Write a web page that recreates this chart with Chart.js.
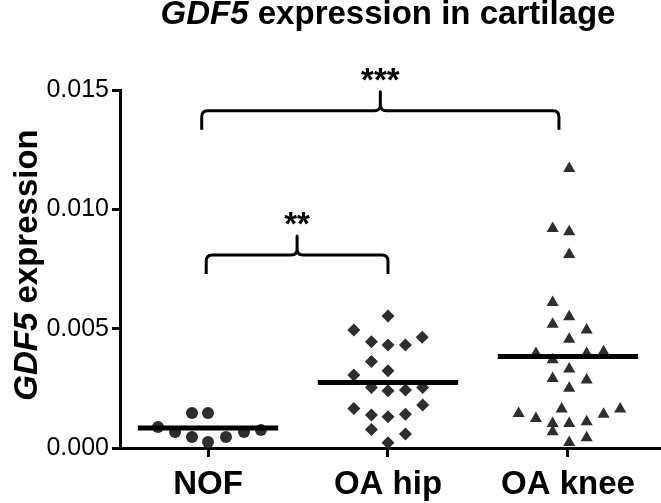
<!DOCTYPE html>
<html>
<head>
<meta charset="utf-8">
<script src="https://cdn.jsdelivr.net/npm/chart.js@4.4.1/dist/chart.umd.min.js"></script>
<style>
  html, body { margin: 0; padding: 0; background: #fff; }
  #c { display: block; }
</style>
</head>
<body>
<canvas id="c" width="661" height="503"></canvas>
<script>
const categories = ['NOF', 'OA hip', 'OA knee'];
const yTicks = [0, 0.005, 0.010, 0.015];

// values, offsets = horizontal spread inside a column (category units)
const nofValues = [0.00088, 0.00067, 0.00147, 0.00046, 0.00147, 0.00025, 0.00046, 0.00067, 0.00075];
const nofOffsets = [-0.278, -0.183, -0.089, -0.089, 0, 0, 0.1, 0.2, 0.294];

const hipValues = [0.00553, 0.00494, 0.00464, 0.00445, 0.00432, 0.00432, 0.00362, 0.00324, 0.00306, 0.00254, 0.00240,
  0.00243, 0.00254, 0.00180, 0.00166, 0.00138, 0.00131, 0.00141, 0.00078, 0.00059, 0.00022];
const hipOffsets = [0, -0.19, 0.19, -0.092, 0, 0.097, -0.092, 0, -0.19, -0.092, 0,
  0.097, 0.193, 0.193, -0.19, -0.092, 0, 0.097, -0.092, 0.097, 0];

const kneeValues = [0.01171, 0.00920, 0.00906, 0.00811, 0.00610, 0.00550, 0.00518, 0.00494, 0.00456, 0.00396, 0.00396,
  0.00403, 0.00370, 0.00331, 0.00291, 0.00285, 0.00250, 0.00163, 0.00145, 0.00163, 0.00141, 0.00124, 0.00103,
  0.00103, 0.00110, 0.00068, 0.00023, 0.00043];
const kneeOffsets = [0.007, -0.085, 0.007, 0.007, -0.085, 0.007, -0.085, 0.104, 0.007, -0.178, 0.104,
  0.198, -0.085, 0.007, -0.085, 0.104, 0.007, -0.035, -0.274, 0.29, 0.198, -0.178, -0.085,
  0.007, 0.104, -0.085, 0.007, 0.104];

const means = [0.00084, 0.00274, 0.00383];

// significance brackets
const bracketFrom = [-0.01, -0.035];
const bracketTo = [1.0, 1.95];
const bracketLevel = [0.00809, 0.01413];
const bracketLabels = ['**', '***'];

const FONT = '"Liberation Sans", Arial, Helvetica, sans-serif';
const MARK = '#2e2e2e';
const MEAN_HALF = 0.39;

function points(values, offsets, col) {
  return values.map((v, i) => ({ x: col + offsets[i], y: v }));
}

function meanLine(i) {
  return [{ x: i - MEAN_HALF, y: means[i] }, { x: i + MEAN_HALF, y: means[i] }];
}

function drawMixed(ctx, parts, x, y) {
  let total = 0;
  parts.forEach(p => { ctx.font = p.font; total += ctx.measureText(p.text).width; });
  let cx = x - total / 2;
  parts.forEach(p => {
    ctx.font = p.font;
    ctx.fillText(p.text, cx, y);
    cx += ctx.measureText(p.text).width;
  });
}

const decorations = {
  id: 'decorations',
  afterDraw(chart) {
    const ctx = chart.ctx;
    const xs = chart.scales.x, ys = chart.scales.y;
    ctx.save();
    ctx.fillStyle = '#000';
    ctx.textAlign = 'left';
    ctx.textBaseline = 'alphabetic';

    const italic = 'italic bold 33px ' + FONT;
    const bold = 'bold 33px ' + FONT;
    drawMixed(ctx, [{ text: 'GDF5', font: italic }, { text: ' expression in cartilage', font: bold }], 388, 24);

    ctx.save();
    ctx.translate(37, 265);
    ctx.rotate(-Math.PI / 2);
    drawMixed(ctx, [{ text: 'GDF5', font: italic }, { text: ' expression', font: bold }], 0, 0);
    ctx.restore();

    // brackets
    ctx.strokeStyle = '#000';
    ctx.lineWidth = 3;
    ctx.lineJoin = 'round';
    ctx.lineCap = 'butt';
    for (let i = 0; i < bracketLabels.length; i++) {
      const x1 = xs.getPixelForValue(bracketFrom[i]);
      const x2 = xs.getPixelForValue(bracketTo[i]);
      const xm = (x1 + x2) / 2;
      const yh = ys.getPixelForValue(bracketLevel[i]);
      const leg = 19, r = 6;
      ctx.beginPath();
      ctx.moveTo(x1, yh + leg);
      ctx.lineTo(x1, yh + r);
      ctx.quadraticCurveTo(x1, yh, x1 + r, yh);
      ctx.lineTo(xm - r, yh);
      ctx.quadraticCurveTo(xm, yh, xm, yh - r);
      ctx.lineTo(xm, yh - leg);
      ctx.lineTo(xm, yh - r);
      ctx.quadraticCurveTo(xm, yh, xm + r, yh);
      ctx.lineTo(x2 - r, yh);
      ctx.quadraticCurveTo(x2, yh, x2, yh + r);
      ctx.lineTo(x2, yh + leg);
      ctx.stroke();

      ctx.font = bold;
      ctx.textAlign = 'center';
      ctx.fillText(bracketLabels[i], xm, yh - leg - 1);
      ctx.textAlign = 'left';
    }
    ctx.restore();
  }
};

const ctx = document.getElementById('c').getContext('2d');
const config = {
  type: 'scatter',
  data: {
    datasets: [
      { data: meanLine(0), showLine: true, borderColor: '#000', borderWidth: 5, pointRadius: 0, order: 0 },
      { data: meanLine(1), showLine: true, borderColor: '#000', borderWidth: 5, pointRadius: 0, order: 0 },
      { data: meanLine(2), showLine: true, borderColor: '#000', borderWidth: 5, pointRadius: 0, order: 0 },
      { label: categories[0], data: points(nofValues, nofOffsets, 0), pointStyle: 'circle', pointRadius: 6,
        backgroundColor: MARK, borderWidth: 0, order: 1 },
      { label: categories[1], data: points(hipValues, hipOffsets, 1), pointStyle: 'rectRot', pointRadius: 6.5,
        backgroundColor: MARK, borderWidth: 0, order: 1 },
      { label: categories[2], data: points(kneeValues, kneeOffsets, 2), pointStyle: 'triangle', pointRadius: 7,
        backgroundColor: MARK, borderWidth: 0, order: 1 }
    ]
  },
  options: {
    responsive: false,
    animation: false,
    devicePixelRatio: 1,
    layout: { autoPadding: false, padding: { top: 90, right: 0, bottom: 0, left: 0 } },
    plugins: { legend: { display: false }, tooltip: { enabled: false }, title: { display: false } },
    scales: {
      x: {
        type: 'linear',
        min: -0.489,
        max: 2.517,
        afterBuildTicks: (scale) => { scale.ticks = categories.map((c, i) => ({ value: i })); },
        afterFit: (scale) => { scale.height = 55; },
        ticks: {
          callback: (v) => categories[v],
          color: '#000',
          font: { family: FONT, size: 33, weight: 'bold' },
          padding: 8,
          maxRotation: 0
        },
        grid: { drawOnChartArea: false, drawTicks: true, tickLength: 9, tickWidth: 3, tickColor: '#000' },
        border: { display: true, color: '#000', width: 3 }
      },
      y: {
        min: 0,
        max: 0.015,
        afterBuildTicks: (scale) => { scale.ticks = yTicks.map(v => ({ value: v })); },
        afterFit: (scale) => { scale.width = 120; },
        ticks: {
          callback: (v) => v.toFixed(3),
          color: '#000',
          font: { family: FONT, size: 25 },
          padding: 3
        },
        grid: { drawOnChartArea: false, drawTicks: true, tickLength: 8, tickWidth: 3, tickColor: '#000' },
        border: { display: true, color: '#000', width: 3 }
      }
    }
  },
  plugins: [decorations]
};
new Chart(ctx, config);
</script>
</body>
</html>
